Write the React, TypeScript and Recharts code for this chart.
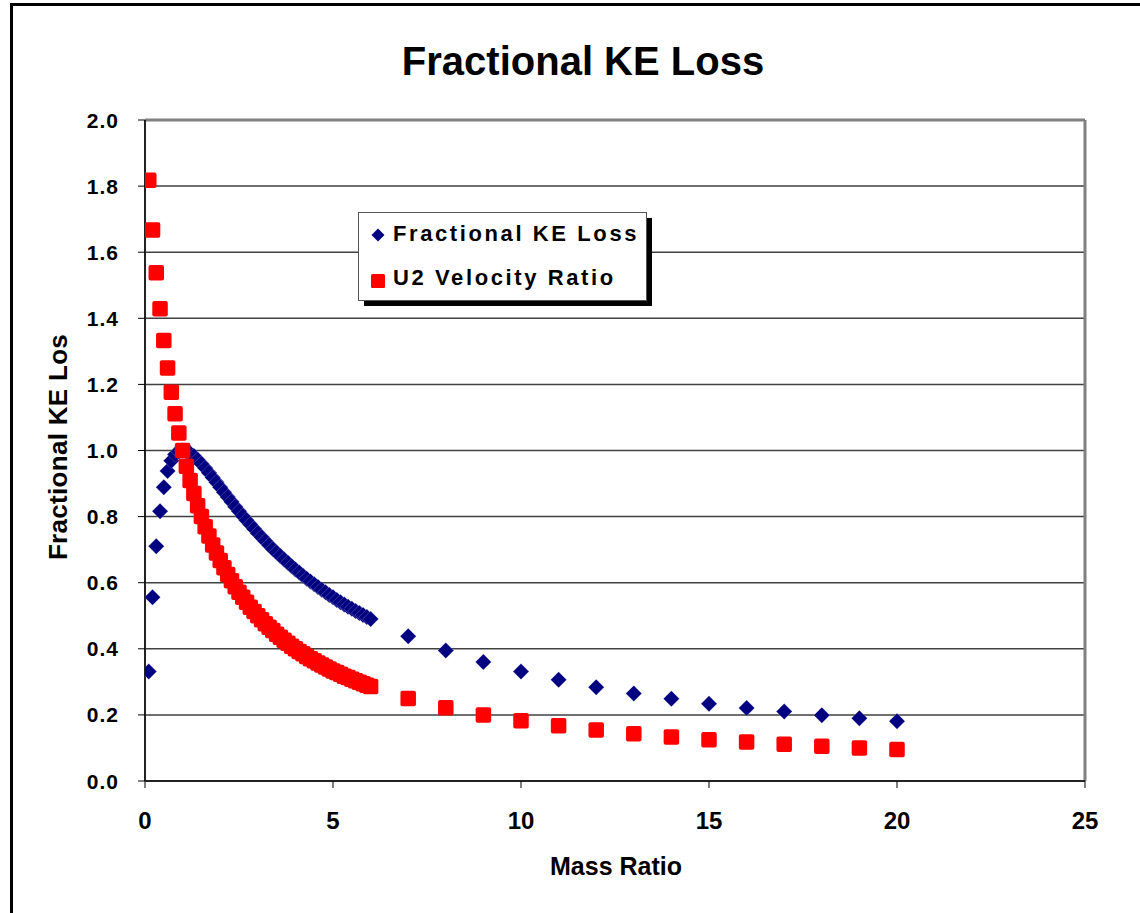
import {
  ScatterChart,
  Scatter,
  XAxis,
  YAxis,
  CartesianGrid,
  ReferenceLine,
} from "recharts";

// mass ratio m2/m1 (0.1 steps up to 6, then whole numbers)
const massRatio = [
  0.1, 0.2, 0.3, 0.4, 0.5, 0.6, 0.7, 0.8, 0.9, 1.0,
  1.1, 1.2, 1.3, 1.4, 1.5, 1.6, 1.7, 1.8, 1.9, 2.0,
  2.1, 2.2, 2.3, 2.4, 2.5, 2.6, 2.7, 2.8, 2.9, 3.0,
  3.1, 3.2, 3.3, 3.4, 3.5, 3.6, 3.7, 3.8, 3.9, 4.0,
  4.1, 4.2, 4.3, 4.4, 4.5, 4.6, 4.7, 4.8, 4.9, 5.0,
  5.1, 5.2, 5.3, 5.4, 5.5, 5.6, 5.7, 5.8, 5.9, 6.0,
  7, 8, 9, 10, 11, 12, 13, 14, 15, 16, 17, 18, 19, 20,
];

const keLoss = [
  0.331, 0.556, 0.71, 0.816, 0.889, 0.938, 0.969, 0.988, 0.997, 1.0,
  0.998, 0.992, 0.983, 0.972, 0.96, 0.947, 0.933, 0.918, 0.904, 0.889,
  0.874, 0.859, 0.845, 0.83, 0.816, 0.802, 0.789, 0.776, 0.763, 0.75,
  0.738, 0.726, 0.714, 0.702, 0.691, 0.681, 0.67, 0.66, 0.65, 0.64,
  0.631, 0.621, 0.612, 0.604, 0.595, 0.587, 0.579, 0.571, 0.563, 0.556,
  0.548, 0.541, 0.534, 0.527, 0.521, 0.514, 0.508, 0.502, 0.496, 0.49,
  0.438, 0.395, 0.36, 0.331, 0.306, 0.284, 0.265, 0.249, 0.234, 0.221,
  0.21, 0.199, 0.19, 0.181,
];

const velocityRatio = [
  1.818, 1.667, 1.538, 1.429, 1.333, 1.25, 1.176, 1.111, 1.053, 1.0,
  0.952, 0.909, 0.87, 0.833, 0.8, 0.769, 0.741, 0.714, 0.69, 0.667,
  0.645, 0.625, 0.606, 0.588, 0.571, 0.556, 0.541, 0.526, 0.513, 0.5,
  0.488, 0.476, 0.465, 0.455, 0.444, 0.435, 0.426, 0.417, 0.408, 0.4,
  0.392, 0.385, 0.377, 0.37, 0.364, 0.357, 0.351, 0.345, 0.339, 0.333,
  0.328, 0.323, 0.317, 0.313, 0.308, 0.303, 0.299, 0.294, 0.29, 0.286,
  0.25, 0.222, 0.2, 0.182, 0.167, 0.154, 0.143, 0.133, 0.125, 0.118,
  0.111, 0.105, 0.1, 0.095,
];

const xTicks = [0, 5, 10, 15, 20, 25];
const yTicks = [0, 0.2, 0.4, 0.6, 0.8, 1.0, 1.2, 1.4, 1.6, 1.8, 2.0];

const keData = massRatio.map((m, i) => ({ x: m, y: keLoss[i] }));
const velData = massRatio.map((m, i) => ({ x: m, y: velocityRatio[i] }));

const FONT = '"Liberation Sans", Arial, sans-serif';
const NAVY = "#000080";
const RED = "#FF0000";

function Diamond({ cx, cy }: { cx?: number; cy?: number }) {
  if (cx == null || cy == null) return null;
  const r = 8;
  return (
    <path
      d={`M${cx},${cy - r}L${cx + r},${cy}L${cx},${cy + r}L${cx - r},${cy}Z`}
      fill={NAVY}
      stroke="#ffffff"
      strokeOpacity={0.35}
      strokeWidth={0.6}
    />
  );
}

function Square({ cx, cy }: { cx?: number; cy?: number }) {
  if (cx == null || cy == null) return null;
  return <rect x={cx - 7.75} y={cy - 7.75} width={15.5} height={15.5} rx={2} fill={RED} />;
}

function YTick({ x, y, payload }: any) {
  return (
    <text
      x={x}
      y={y + 7.5}
      textAnchor="end"
      fontFamily={FONT}
      fontWeight="bold"
      fontSize={21}
      fill="#000"
      style={{ letterSpacing: "1px" }}
    >
      {Number(payload.value).toFixed(1)}
    </text>
  );
}

function XTick({ x, y, payload }: any) {
  return (
    <text
      x={x}
      y={y}
      textAnchor="middle"
      fontFamily={FONT}
      fontWeight="bold"
      fontSize={24}
      fill="#000"
    >
      {payload.value}
    </text>
  );
}

export default function App() {
  return (
    <div
      style={{
        position: "absolute",
        left: 0,
        top: 0,
        width: 1140,
        height: 913,
        overflow: "hidden",
        background: "#fff",
      }}
    >
      <div
        style={{
          position: "absolute",
          left: 10,
          top: 3,
          width: 1300,
          height: 1100,
          border: "3px solid #000",
        }}
      />
      <div style={{ position: "absolute", left: 0, top: 0 }}>
        <ScatterChart
          width={1140}
          height={913}
          margin={{ top: 120, right: 55, bottom: 72, left: 0 }}
        >
          <CartesianGrid vertical={false} stroke="#404040" strokeWidth={1.5} />
          <XAxis
            type="number"
            dataKey="x"
            domain={[0, 25]}
            ticks={xTicks}
            height={60}
            axisLine={{ stroke: "#222", strokeWidth: 2 }}
            tickLine={{ stroke: "#000" }}
            tickSize={7}
            tickMargin={41}
            tick={<XTick />}
            allowDataOverflow
          />
          <YAxis
            type="number"
            dataKey="y"
            domain={[0, 2]}
            ticks={yTicks}
            width={145}
            axisLine={{ stroke: "#222", strokeWidth: 2 }}
            tickLine={{ stroke: "#000" }}
            tickSize={7}
            tickMargin={19}
            tick={<YTick />}
            allowDataOverflow
          />
          <ReferenceLine y={2} stroke="#808080" strokeWidth={3} />
          <ReferenceLine x={25} stroke="#808080" strokeWidth={3} />
          <Scatter
            name="Fractional KE Loss"
            data={keData}
            shape={<Diamond />}
            isAnimationActive={false}
          />
          <Scatter
            name="U2 Velocity Ratio"
            data={velData}
            shape={<Square />}
            isAnimationActive={false}
          />
        </ScatterChart>
      </div>
      <svg
        width={1140}
        height={913}
        style={{ position: "absolute", left: 0, top: 0, pointerEvents: "none" }}
      >
        <text
          x={583}
          y={75}
          textAnchor="middle"
          fontFamily={FONT}
          fontWeight="bold"
          fontSize={40}
          fill="#000"
        >
          Fractional KE Loss
        </text>
        <text
          x={616}
          y={875}
          textAnchor="middle"
          fontFamily={FONT}
          fontWeight="bold"
          fontSize={25}
          fill="#000"
        >
          Mass Ratio
        </text>
        <text
          transform="translate(67, 447) rotate(-90)"
          textAnchor="middle"
          fontFamily={FONT}
          fontWeight="bold"
          fontSize={26}
          fill="#000"
          style={{ letterSpacing: "0.3px" }}
        >
          Fractional KE Los
        </text>
        {/* legend */}
        <rect x={364} y={218} width={288} height={88} fill="#000" />
        <rect x={358.5} y={212.5} width={288} height={88} fill="#fff" stroke="#555" strokeWidth={1} />
        <path d="M378,228.5L384.5,235L378,241.5L371.5,235Z" fill={NAVY} />
        <rect x={371} y={274} width={14} height={14} rx={1.5} fill={RED} />
        <text
          x={393}
          y={241}
          fontFamily={FONT}
          fontWeight="bold"
          fontSize={22}
          fill="#000"
          style={{ letterSpacing: "2.6px" }}
        >
          Fractional KE Loss
        </text>
        <text
          x={393}
          y={285}
          fontFamily={FONT}
          fontWeight="bold"
          fontSize={22}
          fill="#000"
          style={{ letterSpacing: "2.6px" }}
        >
          U2 Velocity Ratio
        </text>
      </svg>
    </div>
  );
}
